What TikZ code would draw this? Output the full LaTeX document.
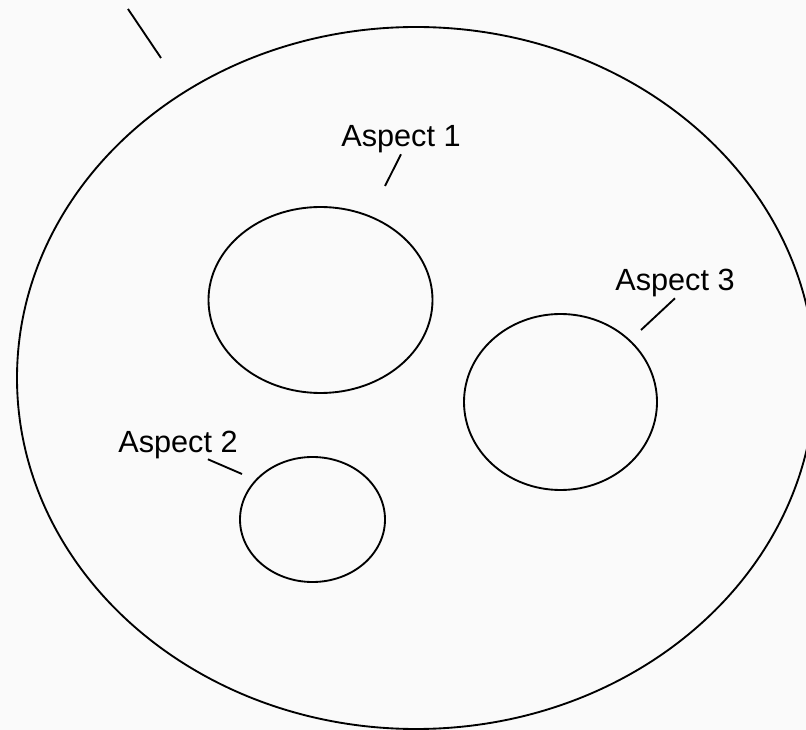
\documentclass[tikz,border=0pt]{standalone}
\usepackage{fontspec}
\setmainfont{Liberation Sans}

\begin{document}
\begin{tikzpicture}[x=0.75pt,y=-0.75pt,line width=1.4pt,
  every node/.style={font=\fontsize{23}{27}\selectfont,inner sep=0pt}]
\useasboundingbox (0,0) rectangle (806,730);
\fill[black!2] (0,0) rectangle (806,730);
\clip (0,0) rectangle (806,730);
% outer boundary
\draw (416,378) ellipse [x radius=399,y radius=351];
\coordinate (tick top) at (128,9);
\coordinate (tick end) at (161,58);
\draw (tick top)--(tick end);
% the three aspects
\draw (320.5,300) ellipse [x radius=112,y radius=93];
\draw (312.5,519.5) ellipse [x radius=72.5,y radius=62.5];
\draw (560.5,402) ellipse [x radius=96.5,y radius=88];
\node[anchor=base] (lbl1) at (401,147) {Aspect 1};
\node[anchor=base] (lbl2) at (178,452) {Aspect 2};
\node[anchor=base] (lbl3) at (675,291) {Aspect 3};
\coordinate (end1) at (385,186);
\coordinate (end2) at (242,474);
\coordinate (end3) at (641,330);
\draw (lbl1.south)--(end1);
\draw ([xshift=-23pt]lbl2.south east)--(end2);
\draw (lbl3.south)--(end3);
\end{tikzpicture}
\end{document}
